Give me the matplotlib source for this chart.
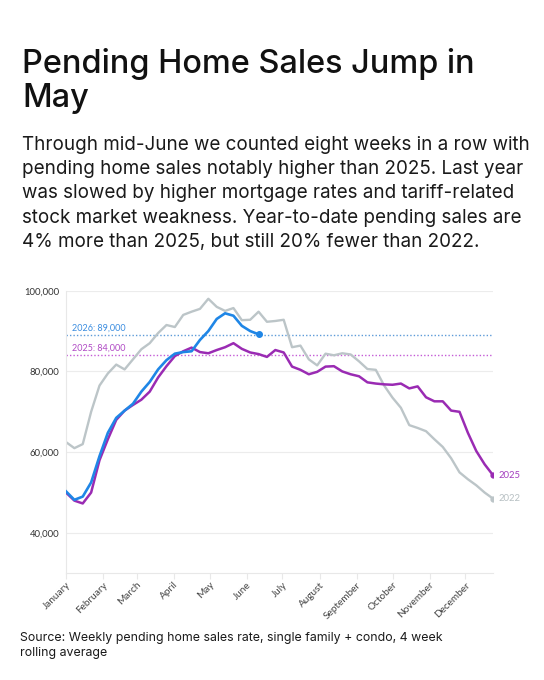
import matplotlib.pyplot as plt
from matplotlib.transforms import ScaledTranslation

plt.rcParams['font.family'] = ['Lato', 'DejaVu Sans']

# weekly values, one point per week starting Jan 1
sales_2022 = [62500, 61000, 62000, 70000, 76500, 79500, 81700, 80500, 83000, 85500,
              87000, 89500, 91500, 91000, 94000, 94800, 95500, 98000, 96000, 95000,
              95700, 92700, 92800, 94800, 92300, 92500, 92800, 86000, 86400, 83000,
              81500, 84400, 84000, 84500, 84200, 82500, 80600, 80400, 76500, 73500,
              71000, 66700, 66000, 65200, 63200, 61300, 58500, 55000, 53300, 51800,
              50000, 48500]
sales_2025 = [50000, 48000, 47300, 50000, 58000, 63200, 68000, 70300, 71700, 73000,
              75000, 78500, 81300, 83800, 85000, 85900, 84800, 84500, 85300, 86000,
              87000, 85600, 84700, 84300, 83600, 85300, 84700, 81200, 80400, 79300,
              79900, 81200, 81300, 80000, 79300, 78800, 77300, 77000, 76800, 76700,
              77000, 75800, 76300, 73600, 72600, 72600, 70300, 70000, 64800, 60300,
              57000, 54300]
sales_2026 = [50300, 48200, 49000, 52500, 59000, 64800, 68500, 70300, 72000, 75000,
              77400, 80500, 82800, 84400, 84800, 85000, 87800, 90000, 93000, 94400,
              93800, 91300, 90000, 89200]

avg_2026 = 89000
avg_2025 = 84000

months = ['January', 'February', 'March', 'April', 'May', 'June', 'July',
          'August', 'September', 'October', 'November', 'December']
month_days = [0, 31, 59, 90, 120, 151, 181, 212, 243, 273, 304, 334]
y_ticks = [40000, 60000, 80000, 100000]

title_lines = ['Pending Home Sales Jump in', 'May']
subtitle_lines = ['Through mid-June we counted eight weeks in a row with',
                  'pending home sales notably higher than 2025. Last year',
                  'was slowed by higher mortgage rates and tariff-related',
                  'stock market weakness. Year-to-date pending sales are',
                  '4% more than 2025, but still 20% fewer than 2022.']
source_lines = ['Source: Weekly pending home sales rate, single family + condo, 4 week',
                'rolling average']

blue = '#1f86e6'
purple = '#9a2bb3'
grey = '#bcc5c8'

W, H = 544, 680
fig = plt.figure(figsize=(W / 100, H / 100), dpi=100)

def line_text(x_px, base_px, s, **kw):
    fig.text(x_px / W, 1 - base_px / H, s, va='baseline', ha='left',
             family=['Inter', 'DejaVu Sans'], **kw)

for i, s in enumerate(title_lines):
    line_text(22, 73 + 34 * i, s, fontsize=23.4, fontweight='medium', color='#111111')
for i, s in enumerate(subtitle_lines):
    line_text(22, 150 + 24.2 * i, s, fontsize=13.55, color='#1a1a1a')
for i, s in enumerate(source_lines):
    line_text(20, 641 + 15 * i, s, fontsize=8.9, color='#1a1a1a')

ax = fig.add_axes([66 / W, 1 - 573.3 / H, 427 / W, 282.6 / H])

days_22 = [7 * i for i in range(len(sales_2022))]
days_25 = [7 * i for i in range(len(sales_2025))]
days_26 = [7 * i for i in range(len(sales_2026))]

ax.axhline(avg_2026, color='#5d9bd8', lw=1, ls=(0, (1, 1.5)), zorder=1)
ax.axhline(avg_2025, color='#c45bd6', lw=1, ls=(0, (1, 1.5)), zorder=1)
ax.text(5, avg_2026 + 700, '2026: 89,000', color='#3b8de0', fontsize=6.5,
        va='bottom')
ax.text(5, avg_2025 + 700, '2025: 84,000', color='#b04ac5', fontsize=6.5,
        va='bottom')

ax.plot(days_22, sales_2022, color=grey, lw=1.7, zorder=2)
ax.plot(days_25, sales_2025, color=purple, lw=1.8, zorder=3)
ax.plot(days_26, sales_2026, color=blue, lw=1.9, zorder=4)

ax.plot(days_22[-1], sales_2022[-1], 'o', color=grey, ms=3.5, zorder=2)
ax.plot(days_25[-1], sales_2025[-1], 'o', color=purple, ms=3.5, zorder=3)
ax.plot(days_26[-1], sales_2026[-1], 'o', color=blue, ms=4, zorder=4)

ax.text(days_25[-1] + 5, sales_2025[-1], '2025', color='#a43fbf', fontsize=6.8,
        va='center')
ax.text(days_22[-1] + 5, sales_2022[-1], '2022', color='#b7c0c3', fontsize=6.8,
        va='center')

ax.set_xlim(0, 357)
ax.set_ylim(30000, 100000)
ax.set_yticks(y_ticks)
ax.set_yticklabels([f'{v:,}' for v in y_ticks])
ax.set_xticks(month_days)
ax.set_xticklabels(months, rotation=45, ha='right', va='top',
                   rotation_mode='anchor')
shift = ScaledTranslation(1 / 100, 0, fig.dpi_scale_trans)
for lab in ax.get_xticklabels():
    lab.set_transform(lab.get_transform() + shift)

ax.grid(axis='y', color='#ececec', lw=0.8)
ax.set_axisbelow(True)
for side in ['top', 'right']:
    ax.spines[side].set_visible(False)
for side in ['left', 'bottom']:
    ax.spines[side].set_color('#e8e8e8')
    ax.spines[side].set_linewidth(0.8)
ax.tick_params(axis='y', length=0, pad=5, labelsize=6.8, labelcolor='#333333')
ax.tick_params(axis='x', length=4, width=0.8, color='#e8e8e8', pad=1,
               labelsize=7.2, labelcolor='#444444')

fig.savefig('out.png', dpi=100, facecolor='white')
